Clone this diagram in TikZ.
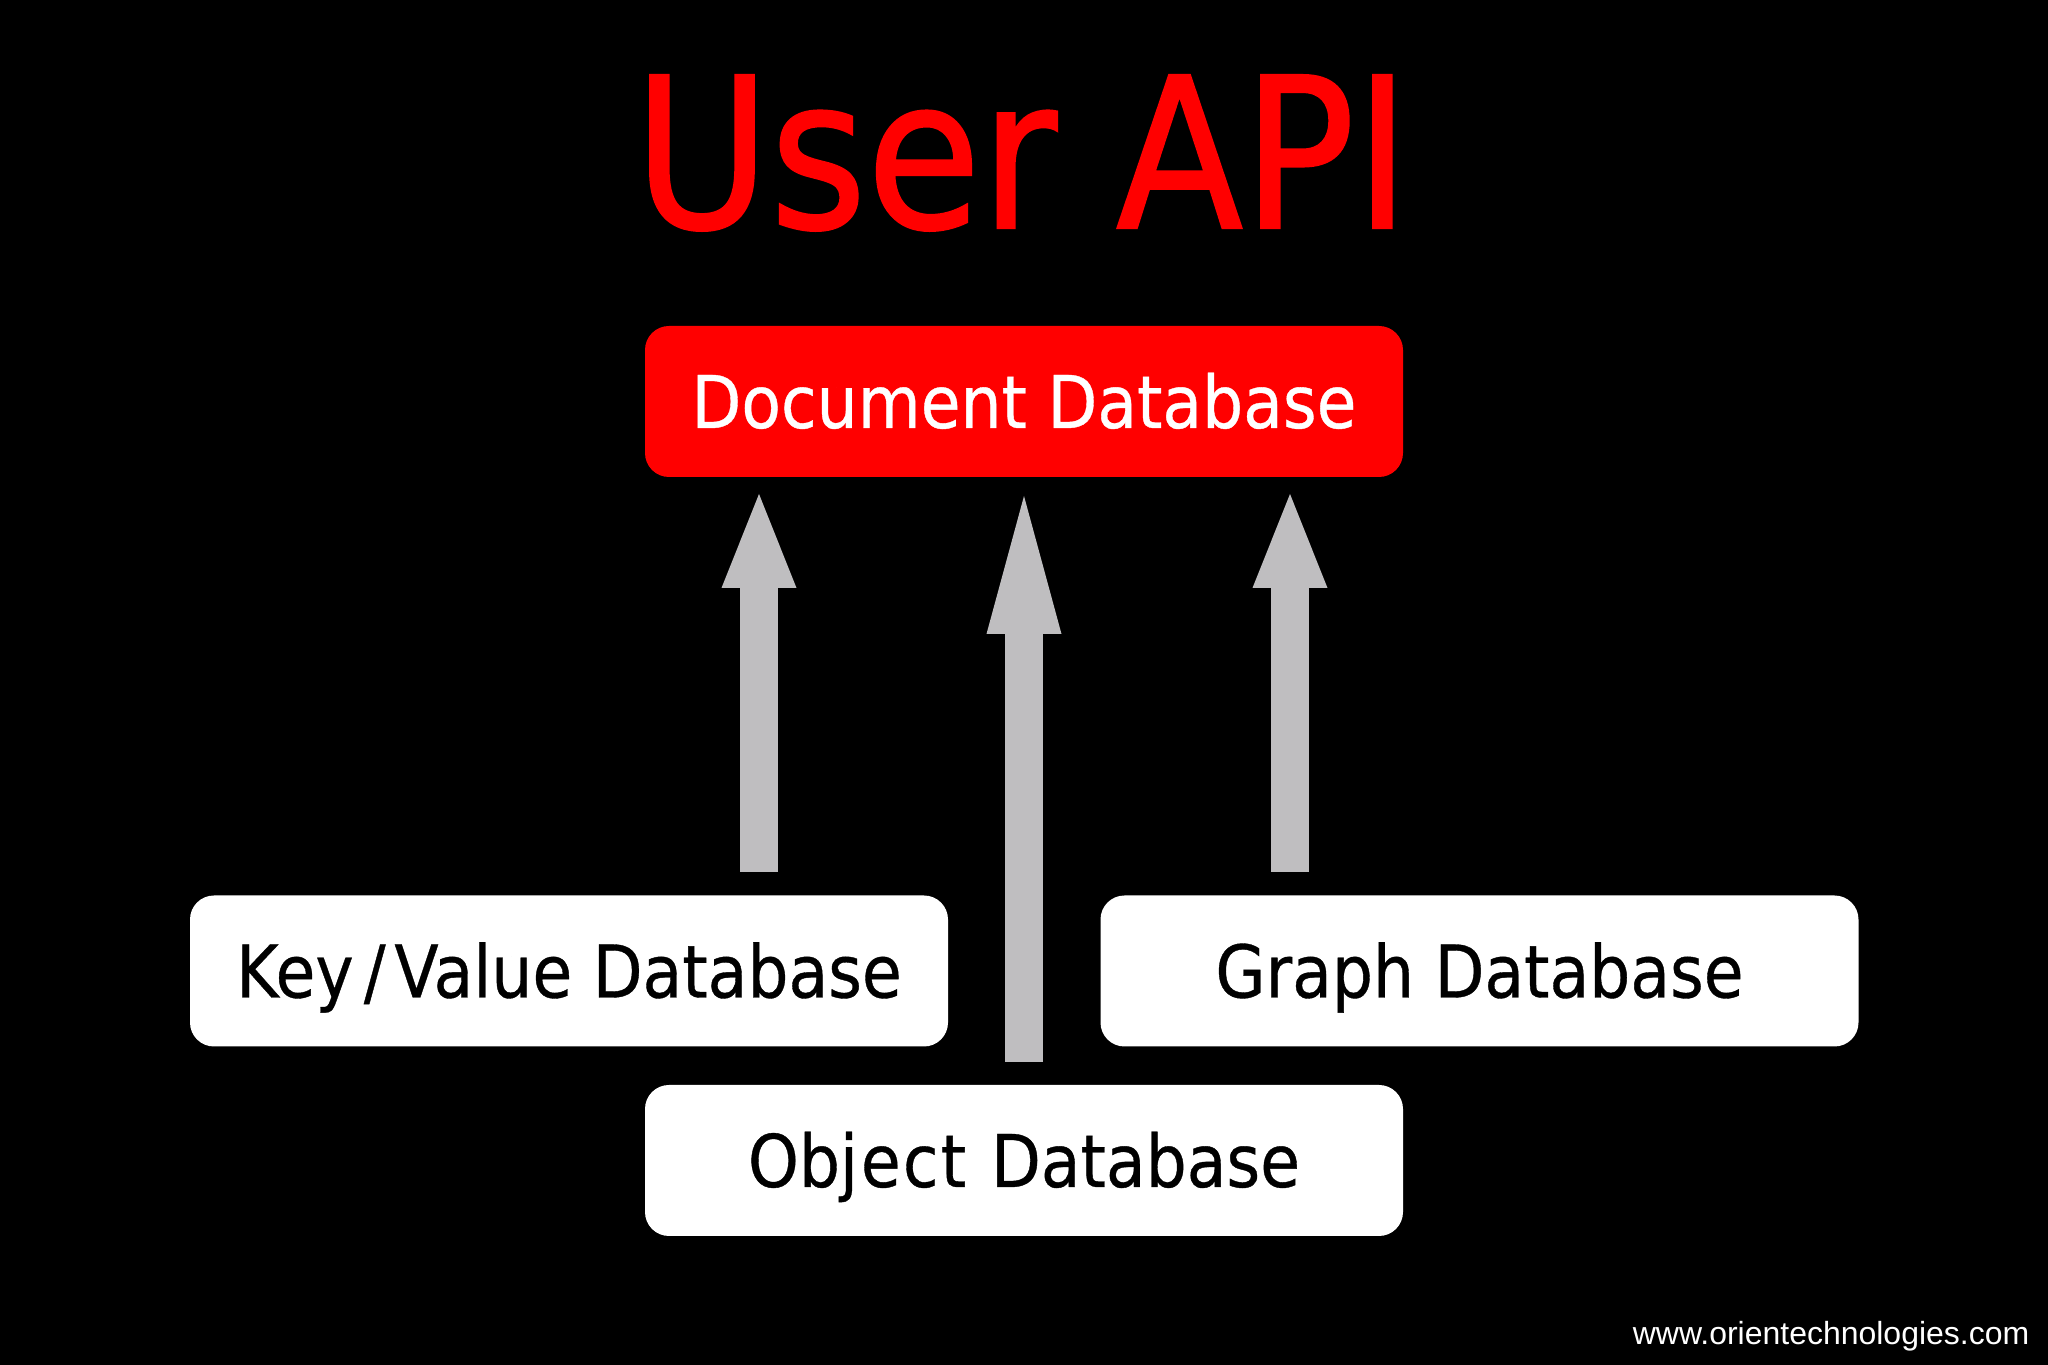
\documentclass[tikz,border=0pt]{standalone}
\usepackage{fontspec}
\usepackage{color}
\usetikzlibrary{arrows.meta}
\newfontfamily\boxfont[FakeStretch=0.89,FakeBold=0.5]{DejaVu Sans}
\newfontfamily\titlefont[FakeStretch=0.885,FakeBold=1]{DejaVu Sans}
\newfontfamily\webfont{Liberation Sans}
\definecolor{arrowgray}{RGB}{191,190,192}

\begin{document}
\begin{tikzpicture}[%
      dbbox/.style={rounded corners=0.24cm, minimum width=7.58cm, minimum height=1.51cm,
        inner sep=0pt, text height=0.53cm, text depth=0pt, font=\boxfont\fontsize{20.7pt}{24pt}\selectfont},
      whitebox/.style={dbbox, fill=white, text=black},
      redbox/.style={dbbox, fill=red, text=white},
      dbarrow/.style={-{Triangle[length=#1,width=0.75cm,line width=0pt]}, line width=0.38cm, color=arrowgray},
      ]
      \fill [color=black] (0,0) rectangle (20.48,13.65);

      \node [anchor=base, text=red, inner sep=0pt, font=\titlefont\fontsize{59.7pt}{66pt}\selectfont] (title) at (10.22,11.37) {User API};

      \node [redbox] (document) at (10.24,9.635) {Document Database};
      \node [whitebox] (keyvalue) at (5.69,3.94) {Key\kern0.14em/\kern0.12em Value Database};
      \node [whitebox] (graph) at (14.795,3.94) {Graph Database};
      \node [whitebox] (object) at (10.24,2.045) {Obj\kern0.04em e\kern0.03em c\kern0.03em t\kern0.06em{} Database};

      \coordinate (kvfoot) at (7.59,4.93);
      \coordinate (kvtip) at (7.59,8.71);
      \coordinate (objfoot) at (10.24,3.03);
      \coordinate (objtip) at (10.24,8.69);
      \coordinate (grfoot) at (12.90,4.93);
      \coordinate (grtip) at (12.90,8.71);

      \draw [dbarrow=0.94cm] (kvfoot) -- (kvtip);
      \draw [dbarrow=1.38cm] (objfoot) -- (objtip);
      \draw [dbarrow=0.94cm] (grfoot) -- (grtip);

      \node [anchor=base east, text=white, inner sep=0pt, font=\webfont\fontsize{9.1pt}{11pt}\selectfont] (website) at (20.30,0.205) {www.orientechnologies.com};
      \end{tikzpicture}
\end{document}
